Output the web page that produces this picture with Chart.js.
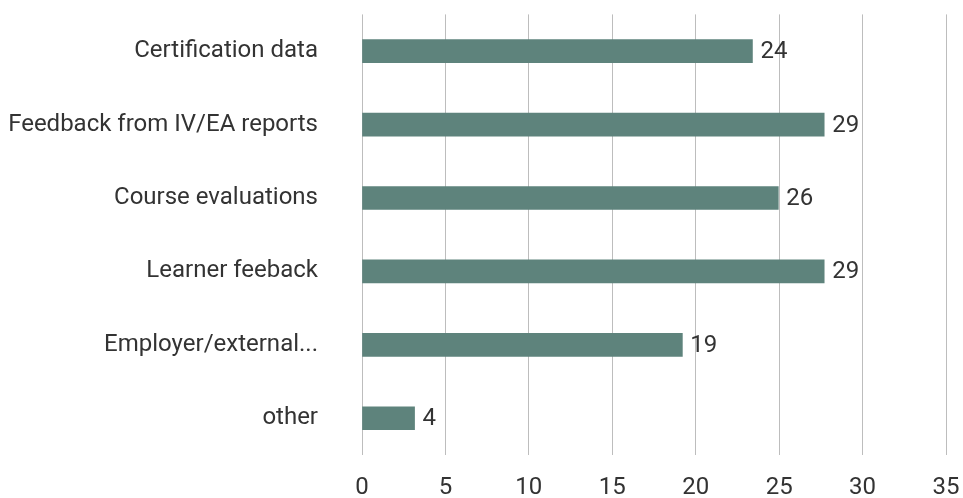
<!DOCTYPE html>
<html>
<head>
<meta charset="utf-8">
<script src="https://cdn.jsdelivr.net/npm/chart.js@4"></script>
<style>
    html, body { margin: 0; padding: 0; background: #fff; }
    #wrap { width: 963px; height: 498px; }
</style>
</head>
<body>
<div id="wrap"><canvas id="graph"></canvas></div>
<script>
// categories, bar lengths and the printed labels
const categories = ['Certification data', 'Feedback from IV/EA reports', 'Course evaluations', 'Learner feeback', 'Employer/external...', 'other'];
const barValues = [23.4, 27.7, 24.95, 27.7, 19.2, 3.15];
const valueLabels = ['24', '29', '26', '29', '19', '4'];
const xTicks = [0, 5, 10, 15, 20, 25, 30, 35];

const FONT = 'Roboto';
const TEXT = '#333333';

// write the label just past the end of each bar
const barLabels = {
    id: 'barLabels',
    afterDatasetsDraw(chart) {
        const ctx = chart.ctx;
        const meta = chart.getDatasetMeta(0);
        ctx.save();
        ctx.font = '24px ' + FONT;
        ctx.fillStyle = TEXT;
        ctx.textAlign = 'left';
        ctx.textBaseline = 'middle';
        meta.data.forEach((bar, i) => {
            ctx.fillText(valueLabels[i], bar.x + 8, bar.y + 1);
        });
        ctx.restore();
    }
};

let graph = new Chart(document.getElementById('graph'), {
    type: 'bar',
    data: {
        labels: categories,
        datasets: [
            {
                data: barValues,
                backgroundColor: '#5E837C',
                barThickness: 23
            }
        ]
    },
    options: {
        indexAxis: 'y',
        responsive: true,
        maintainAspectRatio: false,
        animation: false,
        layout: {
            padding: {top: 14, right: 0, left: 0, bottom: 0}
        },
        plugins: {
            legend: {display: false},
            tooltip: {enabled: false}
        },
        scales: {
            x: {
                min: 0,
                max: 35,
                afterBuildTicks: (scale) => {
                    scale.ticks = xTicks.map(v => ({value: v}));
                },
                afterFit: (scale) => {
                    scale.height = 43;
                    scale.paddingRight = 17;
                },
                grid: {color: '#BDBDBD', lineWidth: 1, drawTicks: false},
                border: {display: false},
                ticks: {
                    padding: 19,
                    color: TEXT,
                    font: {family: FONT, size: 24}
                }
            },
            y: {
                afterFit: (scale) => {
                    scale.width = 362;
                },
                // invisible tick marks keep the labels away from the bars
                grid: {
                    drawOnChartArea: false,
                    drawTicks: true,
                    tickLength: 44,
                    color: 'rgba(0,0,0,0)'
                },
                border: {display: false},
                ticks: {
                    padding: 0,
                    color: TEXT,
                    font: {family: FONT, size: 24}
                }
            }
        }
    },
    plugins: [barLabels]
});
</script>
</body>
</html>
